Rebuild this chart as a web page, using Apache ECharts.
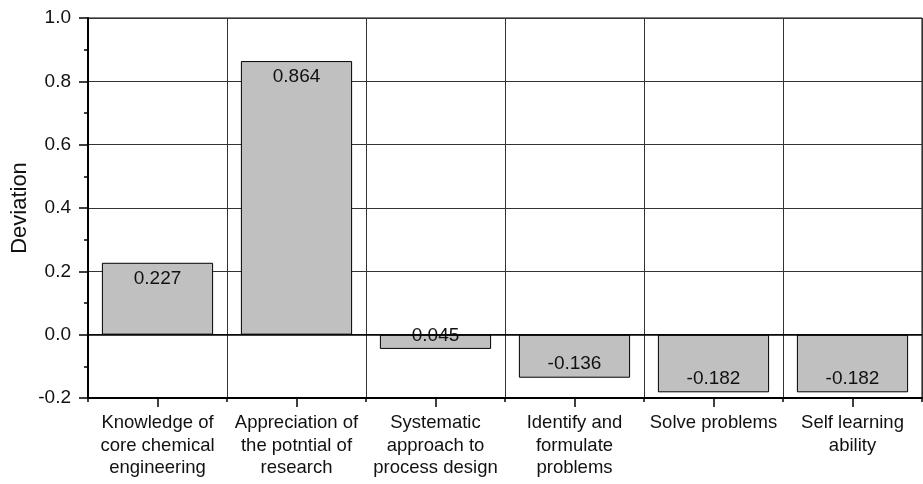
<!DOCTYPE html>
<html>
<head>
<meta charset="utf-8">
<script src="https://cdn.jsdelivr.net/npm/echarts@6/dist/echarts.min.js"></script>
<style>
html,body{margin:0;padding:0;background:#fff;}
#chart{width:923px;height:484px;}
</style>
</head>
<body>
<div id="chart"></div>
<script>
const categories = [
  "Knowledge of\ncore chemical\nengineering",
  "Appreciation of\nthe potntial of\nresearch",
  "Systematic\napproach to\nprocess design",
  "Identify and\nformulate\nproblems",
  "Solve problems",
  "Self learning\nability"
];
const values = [0.227, 0.864, -0.045, -0.136, -0.182, -0.182];
const valueLabels = ["0.227", "0.864", "0.045", "-0.136", "-0.182", "-0.182"];
const yTicks = { min: -0.2, max: 1.0, interval: 0.2 };

const FONT = '"Liberation Sans", Arial, Helvetica, sans-serif';
const chart = echarts.init(document.getElementById('chart'), null, {renderer: 'canvas'});

const data = values.map((v, i) => ({
  value: v,
  label: {
    position: v >= 0 ? 'insideTop' : 'insideBottom',
    distance: v >= 0 ? 6 : 4,
    formatter: () => valueLabels[i]
  }
}));

chart.setOption({
  animation: false,
  backgroundColor: '#fff',
  grid: {
    left: 88, right: 1, top: 18, bottom: 86,
    containLabel: false,
    outerBoundsMode: 'none',
    show: true, borderColor: '#000', borderWidth: 1, backgroundColor: 'transparent'
  },
  xAxis: [{
    type: 'category',
    data: categories,
    position: 'bottom',
    axisLine: { show: true, onZero: false, lineStyle: { color: '#000', width: 2 } },
    axisTick: { show: true, alignWithLabel: true, length: 9, inside: false, lineStyle: { color: '#000', width: 1.5 } },
    axisLabel: {
      interval: 0, margin: 14, color: '#111', fontFamily: FONT, fontSize: 18.5, lineHeight: 22.5
    },
    splitLine: { show: true, lineStyle: { color: '#333', width: 1 } }
  }, {
    type: 'category',
    data: categories,
    position: 'bottom',
    axisLine: { show: false, onZero: false },
    axisTick: { show: true, length: 4, lineStyle: { color: '#000', width: 1.5 } },
    axisLabel: { show: false },
    splitLine: { show: false }
  }],
  yAxis: {
    type: 'value',
    min: yTicks.min, max: yTicks.max, interval: yTicks.interval,
    name: 'Deviation',
    nameLocation: 'middle',
    nameGap: 57,
    nameMoveOverlap: false,
    nameTextStyle: { color: '#111', fontFamily: FONT, fontSize: 22 },
    axisLine: { show: true, lineStyle: { color: '#000', width: 2 } },
    axisTick: { show: true, length: 9, lineStyle: { color: '#000', width: 1.5 } },
    minorTick: { show: true, splitNumber: 2, length: 4, lineStyle: { color: '#000', width: 1.5 } },
    axisLabel: {
      margin: 17, color: '#111', fontFamily: FONT, fontSize: 19,
      formatter: v => v.toFixed(1)
    },
    splitLine: { show: true, lineStyle: { color: '#333', width: 1 } }
  },
  series: [{
    type: 'bar',
    xAxisIndex: 0,
    data: data,
    barCategoryGap: '20%',
    itemStyle: { color: '#c0c0c0', borderColor: '#000', borderWidth: 1 },
    label: { show: true, color: '#111', fontFamily: FONT, fontSize: 19 },
    markLine: {
      silent: true,
      symbol: 'none',
      label: { show: false },
      lineStyle: { color: '#000', width: 1.5, type: 'solid' },
      data: [{ yAxis: 0 }]
    },
    z: 2
  }]
});
</script>
</body>
</html>
